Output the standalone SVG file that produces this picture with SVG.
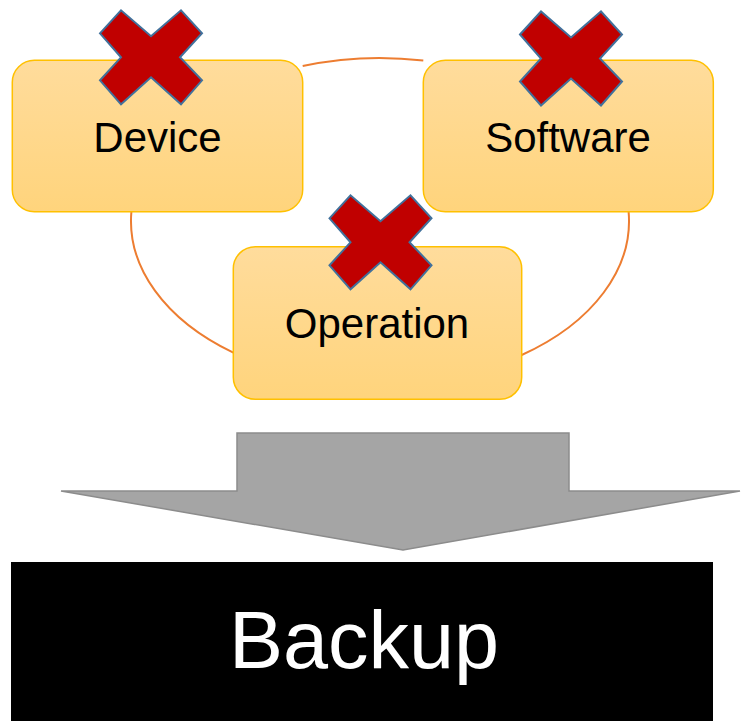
<svg xmlns="http://www.w3.org/2000/svg" xmlns:xlink="http://www.w3.org/1999/xlink" width="741" height="721" viewBox="0 0 741 721">
  <style>
    .box { fill: url(#boxFill); stroke: #FFC000; stroke-width: 1.5; }
    .label { font-family: "Liberation Sans", Arial, sans-serif; font-size: 42px; fill: #000000; text-anchor: middle; }
    .link { fill: none; stroke: #ED7D31; stroke-width: 2; }
    .cross { fill: #C00000; stroke: #41719C; stroke-width: 2; stroke-linejoin: miter; }
  </style>
  <defs>
    <linearGradient id="boxFill" x1="0" y1="0" x2="0" y2="1">
      <stop offset="0" stop-color="#FFDC9C"/>
      <stop offset="1" stop-color="#FFD47C"/>
    </linearGradient>
    <!-- "multiply" mark, centred on the origin -->
    <path id="cross" d="M-51,-24 L-30,-47 L0,-21 L30,-47 L51,-24 L29,0 L51,23 L30,47 L0,20 L-30,47 L-51,23 L-30,0 Z"/>
  </defs>

  <rect width="741" height="721" fill="#FFFFFF"/>

  <!-- cycle ring linking the three factors -->
  <g id="connectors">
    <path class="link" d="M302.7,66 A249,163 0 0 1 423.3,60.5"/>
    <path class="link" d="M131.4,211.7 A249,163 0 0 0 233.3,352.7"/>
    <path class="link" d="M628.6,211.7 A249,163 0 0 1 521.7,355"/>
  </g>

  <g id="device">
    <rect class="box" x="12.3" y="60.3" width="290.4" height="151.4" rx="22"/>
    <text class="label" x="157.5" y="152">Device</text>
    <use href="#cross" xlink:href="#cross" class="cross" x="151" y="57.3"/>
  </g>

  <g id="software">
    <rect class="box" x="423.3" y="60.3" width="290" height="151.4" rx="22"/>
    <text class="label" x="568" y="152">Software</text>
    <use href="#cross" xlink:href="#cross" class="cross" x="571" y="58.5"/>
  </g>

  <g id="operation">
    <rect class="box" x="233.3" y="246.7" width="288.4" height="152.6" rx="22"/>
    <text class="label" x="377" y="338">Operation</text>
    <use href="#cross" xlink:href="#cross" class="cross" x="380.5" y="242.3"/>
  </g>

  <!-- block arrow pointing down to the result -->
  <g id="arrow">
    <polygon points="237,433 569,433 569,491 740,491 403,550 61,491 237,491" fill="#A5A5A5" stroke="#8C8C8C" stroke-width="1.5"/>
  </g>

  <g id="backup">
    <rect x="11" y="562" width="702" height="170" fill="#000000"/>
    <text x="364" y="668" font-family="Liberation Sans, Arial, sans-serif" font-size="81" fill="#FFFFFF" text-anchor="middle">Backup</text>
  </g>
</svg>
